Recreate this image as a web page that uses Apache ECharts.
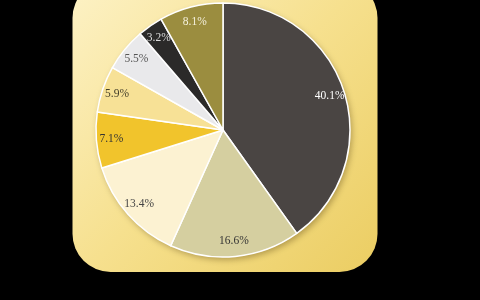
<!DOCTYPE html>
<html>
<head>
<meta charset="utf-8">
<script src="https://cdn.jsdelivr.net/npm/echarts@6/dist/echarts.min.js"></script>
<style>
    html, body { margin: 0; padding: 0; background: #000; }
    #chart { width: 480px; height: 300px; }
</style>
</head>
<body>
<div id="chart"></div>
<script>
// 各扇区占比（从12点方向顺时针）
const shares = [40.1, 16.6, 13.4, 7.1, 5.9, 5.5, 3.2, 8.1];
const sliceColors = ['#4a4543', '#d5cfa0', '#fcf2d2', '#f1c42c', '#f7e196', '#e9e9eb', '#2b2a29', '#9b8d3f'];
const labelColors = ['#ffffff', '#333333', '#444444', '#333333', '#443f2a', '#555555', '#dddddd', '#f4f0dc'];

const CX = 223, CY = 130, R = 127;

let chart = echarts.init(document.getElementById('chart'));

let pieData = shares.map(function (v, i) {
    return { value: v, itemStyle: { color: sliceColors[i] } };
});
let labelData = shares.map(function (v, i) {
    return { value: v, label: { color: labelColors[i] } };
});

let option = {
    backgroundColor: '#000',
    animation: false,
    graphic: [
        {
            type: 'rect',
            z: -10,
            shape: { x: 72.5, y: -20, width: 305, height: 292, r: 38 },
            style: {
                fill: {
                    type: 'linear', x: 0, y: 0, x2: 1, y2: 1,
                    colorStops: [
                        { offset: 0, color: '#fdf2c6' },
                        { offset: 0.5, color: '#f6e08e' },
                        { offset: 1, color: '#ebcd62' }
                    ]
                }
            }
        }
    ],
    series: [
        {
            // 整圆的阴影
            type: 'pie',
            z: 1,
            center: [CX, CY],
            radius: R,
            silent: true,
            label: { show: false },
            labelLine: { show: false },
            itemStyle: {
                color: '#cbbf8a',
                shadowBlur: 6,
                shadowOffsetX: 2,
                shadowOffsetY: 3,
                shadowColor: 'rgba(60,40,0,0.35)'
            },
            data: [{ value: 1 }]
        },
        {
            type: 'pie',
            z: 2,
            center: [CX, CY],
            radius: R,
            startAngle: 90,
            clockwise: true,
            silent: true,
            label: { show: false },
            labelLine: { show: false },
            itemStyle: {
                borderColor: '#ffffff',
                borderWidth: 1.5
            },
            data: pieData
        },
        {
            // 只用来放百分比标签
            type: 'pie',
            z: 3,
            center: [CX, CY],
            radius: [91, R],
            startAngle: 90,
            clockwise: true,
            silent: true,
            itemStyle: { color: 'transparent' },
            label: {
                show: true,
                position: 'inside',
                fontFamily: 'Liberation Serif',
                fontSize: 11.5,
                formatter: '{c}%'
            },
            labelLine: { show: false },
            data: labelData
        }
    ]
};

chart.setOption(option);
</script>
</body>
</html>
